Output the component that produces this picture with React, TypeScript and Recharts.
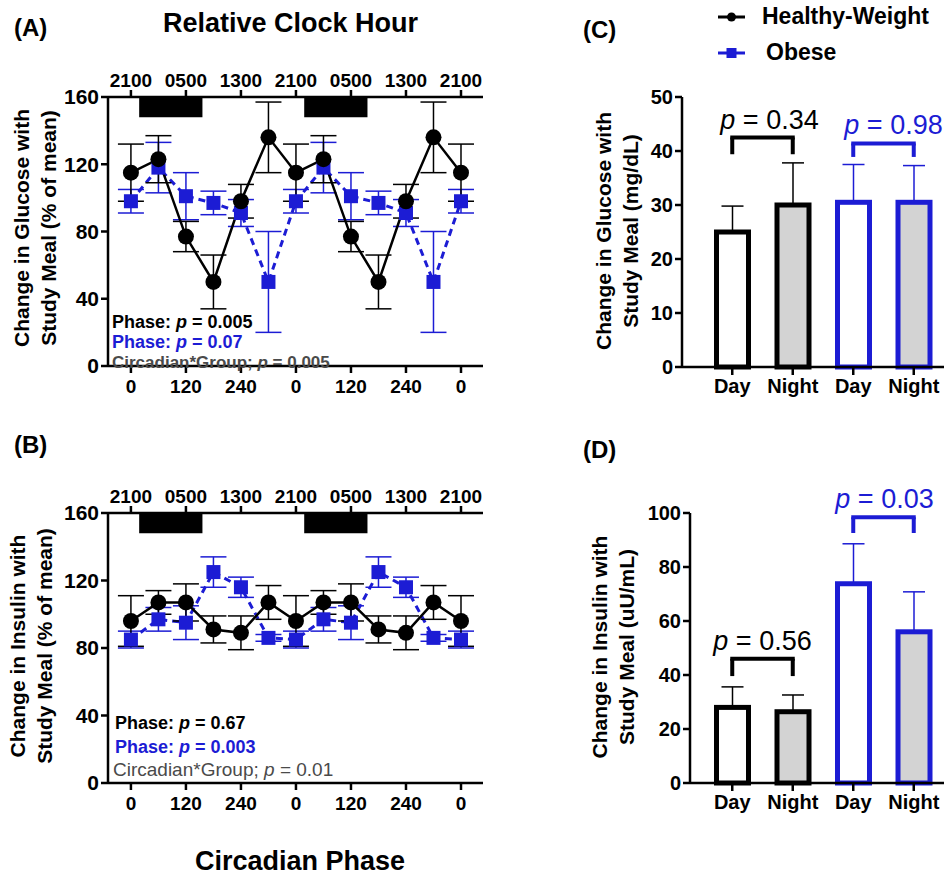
import React from "react";
import {
  ComposedChart,
  BarChart,
  Bar,
  Line,
  XAxis,
  YAxis,
  ErrorBar,
  ReferenceArea,
  ReferenceLine,
} from "recharts";

const BLUE = "#1c1cd4";
const GRAY_TEXT = "#4a4a4a";
const FONT = "'Liberation Sans', Arial, sans-serif";

// circadian phase (deg), double plotted
const phases = [0, 60, 120, 180, 240, 300, 360, 420, 480, 540, 600, 660, 720];
const phaseTicks = [0, 120, 240, 360, 480, 600, 720];
const phaseLabels = ["0", "120", "240", "0", "120", "240", "0"];
const clockLabels = ["2100", "0500", "1300", "2100", "0500", "1300", "2100"];
const sleepStart = [18, 378];
const sleepEnd = [156, 516];

// (A) glucose, % of mean
const glucoseHW = [115, 123, 77, 50, 98, 136, 115, 123, 77, 50, 98, 136, 115];
const glucoseHWErr = [17, 14, 9, 16, 10, 21, 17, 14, 9, 16, 10, 21, 17];
const glucoseOB = [98, 118, 101, 97, 91, 50, 98, 118, 101, 97, 91, 50, 98];
const glucoseOBErr = [7, 15, 14, 7, 8, 30, 7, 15, 14, 7, 8, 30, 7];

// (B) insulin, % of mean
const insulinHW = [96, 107, 107, 91, 89, 107, 96, 107, 107, 91, 89, 107, 96];
const insulinHWErr = [15, 7, 11, 8, 10, 10, 15, 7, 11, 8, 10, 10, 15];
const insulinOB = [85, 97, 95, 125, 116, 86, 85, 97, 95, 125, 116, 86, 85];
const insulinOBErr = [5, 7, 10, 9, 6, 2, 5, 7, 10, 9, 6, 2, 5];

// (C)/(D) day vs night
const barKeys = ["hwDay", "hwNight", "obDay", "obNight"];
const barLabels = ["Day", "Night", "Day", "Night"];
const barFills = ["#ffffff", "#d3d3d3", "#ffffff", "#d3d3d3"];
const barStrokes = ["#000000", "#000000", BLUE, BLUE];
const glucoseBar = [25, 30, 30.5, 30.5];
const glucoseBarErr = [4.8, 7.8, 7, 6.8];
const insulinBar = [28, 26.4, 73.8, 56];
const insulinBarErr = [7.6, 6.2, 14.8, 14.8];

const glucoseBrackets = [
  { from: "hwDay", to: "hwNight", top: 42.5, bottom: 39.4, color: "#000", p: "0.34", dx: 7 },
  { from: "obDay", to: "obNight", top: 41.4, bottom: 38.9, color: BLUE, p: "0.98", dx: 10 },
];
const insulinBrackets = [
  { from: "hwDay", to: "hwNight", top: 46, bottom: 39.6, color: "#000", p: "0.56", dx: 0 },
  { from: "obDay", to: "obNight", top: 98.4, bottom: 92.6, color: BLUE, p: "0.03", dx: 1 },
];

const axisStroke = { stroke: "#000", strokeWidth: 2.5 };

const Square = (props: any) => {
  const { cx, cy, index } = props;
  if (cx == null || cy == null) return <g key={index} />;
  return <rect key={index} x={cx - 7} y={cy - 7} width={14} height={14} fill={BLUE} />;
};

const BarWithErr = (props: any) => {
  const { x, y, width, height, payload } = props;
  const unit = height / payload.value;
  const errTop = y - payload.err * unit;
  const cx = x + width / 2;
  return (
    <g>
      <line x1={cx} x2={cx} y1={y} y2={errTop} stroke={payload.stroke} strokeWidth={1.5} />
      <line x1={cx - 11} x2={cx + 11} y1={errTop} y2={errTop} stroke={payload.stroke} strokeWidth={1.5} />
      <rect
        x={x + 2.5}
        y={y}
        width={width - 5}
        height={height}
        fill={payload.fill}
        stroke={payload.stroke}
        strokeWidth={5}
      />
    </g>
  );
};

const PLabel = (props: any) => {
  const { viewBox, text, color, dx } = props;
  if (!viewBox) return null;
  const cx = viewBox.x + viewBox.width / 2 + dx;
  return (
    <text x={cx} y={viewBox.y - 9} textAnchor="middle" fill={color} fontSize={27} fontFamily={FONT}>
      <tspan fontStyle="italic">p</tspan> = {text}
    </text>
  );
};

const AbsText = ({ left, top, size = 19, bold = true, color = "#000", children }: any) => (
  <div
    style={{
      position: "absolute",
      left,
      top,
      fontSize: size,
      fontWeight: bold ? "bold" : "normal",
      color,
      whiteSpace: "nowrap",
      lineHeight: 1,
    }}
  >
    {children}
  </div>
);

const YLabel = ({ cx, cy, lines, size = 21 }: any) => (
  <div
    style={{
      position: "absolute",
      left: cx - 200,
      top: cy - 30,
      width: 400,
      height: 60,
      transform: "rotate(-90deg)",
      textAlign: "center",
      fontSize: size,
      fontWeight: "bold",
      lineHeight: "27px",
      whiteSpace: "nowrap",
    }}
  >
    {lines[0]}
    <br />
    {lines[1]}
  </div>
);

function PhasePanel({ top, marginTop, marginBottom, hw, hwErr, ob, obErr }: any) {
  const data = phases.map((phase, i) => ({
    phase,
    hw: hw[i],
    hwErr: hwErr[i],
    ob: ob[i],
    obErr: obErr[i],
  }));
  return (
    <div style={{ position: "absolute", left: 0, top }}>
      <ComposedChart
        width={500}
        height={420}
        data={data}
        margin={{ top: marginTop, right: 17, bottom: marginBottom, left: 48 }}
      >
        <XAxis
          xAxisId="top"
          orientation="top"
          type="number"
          dataKey="phase"
          domain={[-50, 768]}
          ticks={phaseTicks}
          tickFormatter={(v: number) => clockLabels[phaseTicks.indexOf(v)]}
          axisLine={axisStroke}
          tickLine={axisStroke}
          tickSize={7}
          tickMargin={3}
          tick={{ fill: "#000", fontSize: 19, fontWeight: "bold", fontFamily: FONT }}
        />
        <XAxis
          type="number"
          dataKey="phase"
          domain={[-50, 768]}
          ticks={phaseTicks}
          tickFormatter={(v: number) => phaseLabels[phaseTicks.indexOf(v)]}
          axisLine={axisStroke}
          tickLine={axisStroke}
          tickSize={7}
          tickMargin={7}
          tick={{ fill: "#000", fontSize: 19, fontWeight: "bold", fontFamily: FONT }}
        />
        <YAxis
          domain={[0, 160]}
          ticks={[0, 40, 80, 120, 160]}
          width={60}
          axisLine={axisStroke}
          tickLine={axisStroke}
          tickSize={7}
          tickMargin={2}
          tick={{ fill: "#000", fontSize: 21, fontWeight: "bold", fontFamily: FONT }}
        />
        {sleepStart.map((s, i) => (
          <ReferenceArea
            key={i}
            x1={s}
            x2={sleepEnd[i]}
            y1={148}
            y2={160}
            fill="#000"
            fillOpacity={1}
            stroke="none"
          />
        ))}
        <Line
          dataKey="ob"
          stroke={BLUE}
          strokeWidth={3}
          strokeDasharray="7 5"
          dot={Square}
          activeDot={false}
          isAnimationActive={false}
        >
          <ErrorBar dataKey="obErr" width={13} stroke={BLUE} strokeWidth={1.5} direction="y" />
        </Line>
        <Line
          dataKey="hw"
          stroke="#000"
          strokeWidth={2.5}
          dot={{ r: 8, fill: "#000", stroke: "#000", strokeWidth: 0 }}
          activeDot={false}
          isAnimationActive={false}
        >
          <ErrorBar dataKey="hwErr" width={13} stroke="#000" strokeWidth={1.5} direction="y" />
        </Line>
      </ComposedChart>
    </div>
  );
}

function BarPanel({ top, marginTop, marginBottom, marginLeft, padLeft, values, errs, domain, ticks, brackets }: any) {
  const data = barKeys.map((key, i) => ({
    key,
    value: values[i],
    err: errs[i],
    fill: barFills[i],
    stroke: barStrokes[i],
  }));
  return (
    <div style={{ position: "absolute", left: 570, top }}>
      <BarChart
        width={374}
        height={420}
        data={data}
        margin={{ top: marginTop, right: 0, bottom: marginBottom, left: marginLeft }}
      >
        <XAxis
          dataKey="key"
          padding={{ left: padLeft, right: 0 }}
          tickFormatter={(v: string) => barLabels[barKeys.indexOf(v)]}
          axisLine={axisStroke}
          tickLine={axisStroke}
          tickSize={8}
          tickMargin={4}
          interval={0}
          tick={{ fill: "#000", fontSize: 20, fontWeight: "bold", fontFamily: FONT }}
        />
        <YAxis
          domain={domain}
          ticks={ticks}
          width={60}
          axisLine={axisStroke}
          tickLine={axisStroke}
          tickSize={7}
          tickMargin={2}
          tick={{ fill: "#000", fontSize: 20, fontWeight: "bold", fontFamily: FONT }}
        />
        <Bar dataKey="value" barSize={37} shape={BarWithErr} isAnimationActive={false} />
        {brackets.map((b: any, i: number) => [
          <ReferenceLine
            key={`h${i}`}
            segment={[
              { x: b.from, y: b.top },
              { x: b.to, y: b.top },
            ]}
            stroke={b.color}
            strokeWidth={4}
            strokeLinecap="square"
            label={<PLabel text={b.p} color={b.color} dx={b.dx} />}
          />,
          <ReferenceLine
            key={`l${i}`}
            segment={[
              { x: b.from, y: b.top },
              { x: b.from, y: b.bottom },
            ]}
            stroke={b.color}
            strokeWidth={4}
          />,
          <ReferenceLine
            key={`r${i}`}
            segment={[
              { x: b.to, y: b.top },
              { x: b.to, y: b.bottom },
            ]}
            stroke={b.color}
            strokeWidth={4}
          />,
        ])}
      </BarChart>
    </div>
  );
}

const P = () => <span style={{ fontStyle: "italic" }}>p</span>;

export default function App() {
  return (
    <div
      style={{
        position: "absolute",
        left: 0,
        top: 0,
        width: 944,
        height: 877,
        overflow: "hidden",
        background: "#fff",
        fontFamily: FONT,
        color: "#000",
      }}
    >
      <PhasePanel
        top={0}
        marginTop={67}
        marginBottom={24}
        hw={glucoseHW}
        hwErr={glucoseHWErr}
        ob={glucoseOB}
        obErr={glucoseOBErr}
      />
      <PhasePanel
        top={420}
        marginTop={63}
        marginBottom={27}
        hw={insulinHW}
        hwErr={insulinHWErr}
        ob={insulinOB}
        obErr={insulinOBErr}
      />
      <BarPanel
        top={0}
        marginTop={97}
        marginBottom={23}
        marginLeft={52}
        padLeft={20}
        values={glucoseBar}
        errs={glucoseBarErr}
        domain={[0, 50]}
        ticks={[0, 10, 20, 30, 40, 50]}
        brackets={glucoseBrackets}
      />
      <BarPanel
        top={420}
        marginTop={93}
        marginBottom={27}
        marginLeft={60}
        padLeft={12}
        values={insulinBar}
        errs={insulinBarErr}
        domain={[0, 100]}
        ticks={[0, 20, 40, 60, 80, 100]}
        brackets={insulinBrackets}
      />

      <AbsText left={14} top={16} size={24}>(A)</AbsText>
      <AbsText left={14} top={433} size={24}>(B)</AbsText>
      <AbsText left={583} top={18} size={24}>(C)</AbsText>
      <AbsText left={583} top={438} size={24}>(D)</AbsText>

      <AbsText left={163} top={10} size={27}>Relative Clock Hour</AbsText>
      <AbsText left={195} top={848} size={27}>Circadian Phase</AbsText>

      <YLabel cx={38} cy={228} lines={["Change in Glucose with", "Study Meal (% of mean)"]} />
      <YLabel cx={34} cy={646} lines={["Change in Insulin with", "Study Meal (% of  mean)"]} />
      <YLabel cx={620} cy={231} lines={["Change in Glucose with", "Study Meal (mg/dL)"]} />
      <YLabel cx={616} cy={647} lines={["Change in Insulin with", "Study Meal (uU/mL)"]} />

      <AbsText left={112} top={313} size={18}>Phase: <P /> = 0.005</AbsText>
      <AbsText left={112} top={333} size={18} color={BLUE}>Phase: <P /> = 0.07</AbsText>
      <AbsText left={112} top={354} size={17} color={GRAY_TEXT}>Circadian*Group; <P /> = 0.005</AbsText>

      <AbsText left={115} top={714} size={18}>Phase: <P /> = 0.67</AbsText>
      <AbsText left={115} top={738} size={18} color={BLUE}>Phase: <P /> = 0.003</AbsText>
      <AbsText left={113} top={760} size={19} bold={false} color={GRAY_TEXT}>Circadian*Group; <P /> = 0.01</AbsText>

      <svg style={{ position: "absolute", left: 714, top: 4 }} width={36} height={60}>
        <line x1={4} x2={31} y1={13} y2={13} stroke="#000" strokeWidth={3} />
        <circle cx={17.5} cy={13} r={4.5} fill="#000" />
        <line x1={4} x2={31} y1={49} y2={49} stroke={BLUE} strokeWidth={3} />
        <rect x={12.5} y={44} width={10} height={10} fill={BLUE} />
      </svg>
      <AbsText left={762} top={5} size={23}>Healthy-Weight</AbsText>
      <AbsText left={766} top={41} size={23}>Obese</AbsText>
    </div>
  );
}
